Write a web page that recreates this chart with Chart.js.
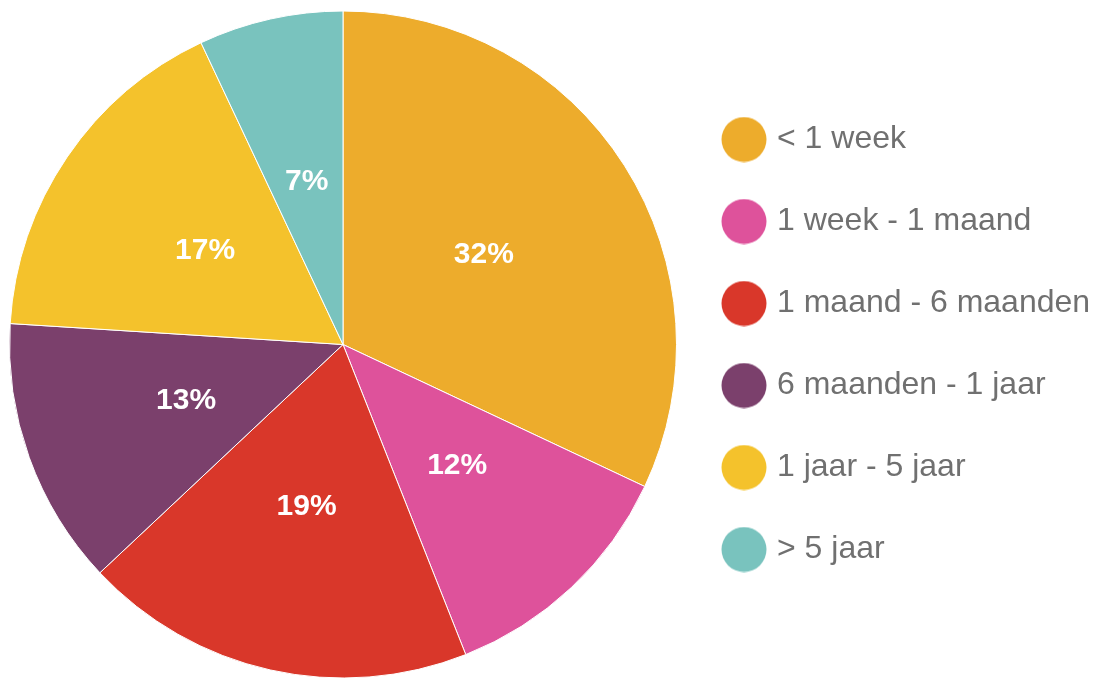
<!DOCTYPE html>
<html>
<head>
<meta charset="utf-8">
<script src="https://cdn.jsdelivr.net/npm/chart.js@4"></script>
<style>
  html, body { margin: 0; padding: 0; background: #fff; }
  #wrap { width: 1094px; height: 679px; position: relative; }
</style>
</head>
<body>
<div id="wrap"><canvas id="c" width="1094" height="679"></canvas></div>
<script>
const categories = ['< 1 week', '1 week - 1 maand', '1 maand - 6 maanden', '6 maanden - 1 jaar', '1 jaar - 5 jaar', '> 5 jaar'];
const percentages = [32, 12, 19, 13, 17, 7];
const sliceColors = ['#EDAC2C', '#DE529B', '#D9372A', '#7B406C', '#F4C22C', '#79C3BE'];

function circleImage(color, d) {
  const cv = document.createElement('canvas');
  cv.width = d; cv.height = d;
  const g = cv.getContext('2d');
  g.fillStyle = color;
  g.beginPath();
  g.arc(d / 2, d / 2, d / 2 - 0.5, 0, Math.PI * 2);
  g.fill();
  return cv;
}
const legendDots = sliceColors.map(c => circleImage(c, 46));

const sliceLabels = {
  id: 'sliceLabels',
  afterDatasetsDraw(chart) {
    const ctx = chart.ctx;
    const meta = chart.getDatasetMeta(0);
    ctx.save();
    ctx.fillStyle = '#ffffff';
    ctx.font = 'bold 30px "Liberation Sans", Arial, sans-serif';
    ctx.textAlign = 'center';
    ctx.textBaseline = 'middle';
    meta.data.forEach((arc, i) => {
      const p = arc.tooltipPosition();
      ctx.fillText(percentages[i] + '%', p.x, p.y);
    });
    ctx.restore();
  }
};

new Chart(document.getElementById('c'), {
  type: 'pie',
  data: {
    labels: categories,
    datasets: [{
      data: percentages,
      backgroundColor: sliceColors,
      borderColor: '#ffffff',
      borderWidth: 1
    }]
  },
  options: {
    responsive: false,
    animation: false,
    layout: { padding: { top: 10, bottom: 0, left: 9, right: 0 } },
    plugins: {
      tooltip: { enabled: false },
      legend: {
        position: 'right',
        maxWidth: 417,
        labels: {
          usePointStyle: true,
          pointStyleWidth: 34,
          padding: 50,
          color: '#707070',
          font: { size: 32, family: '"Liberation Sans", Arial, sans-serif' },
          generateLabels(chart) {
            const items = Chart.controllers.pie.overrides.plugins.legend.labels.generateLabels(chart);
            items.forEach((it, i) => { it.pointStyle = legendDots[i]; });
            return items;
          }
        }
      }
    }
  },
  plugins: [sliceLabels]
});
</script>
</body>
</html>
